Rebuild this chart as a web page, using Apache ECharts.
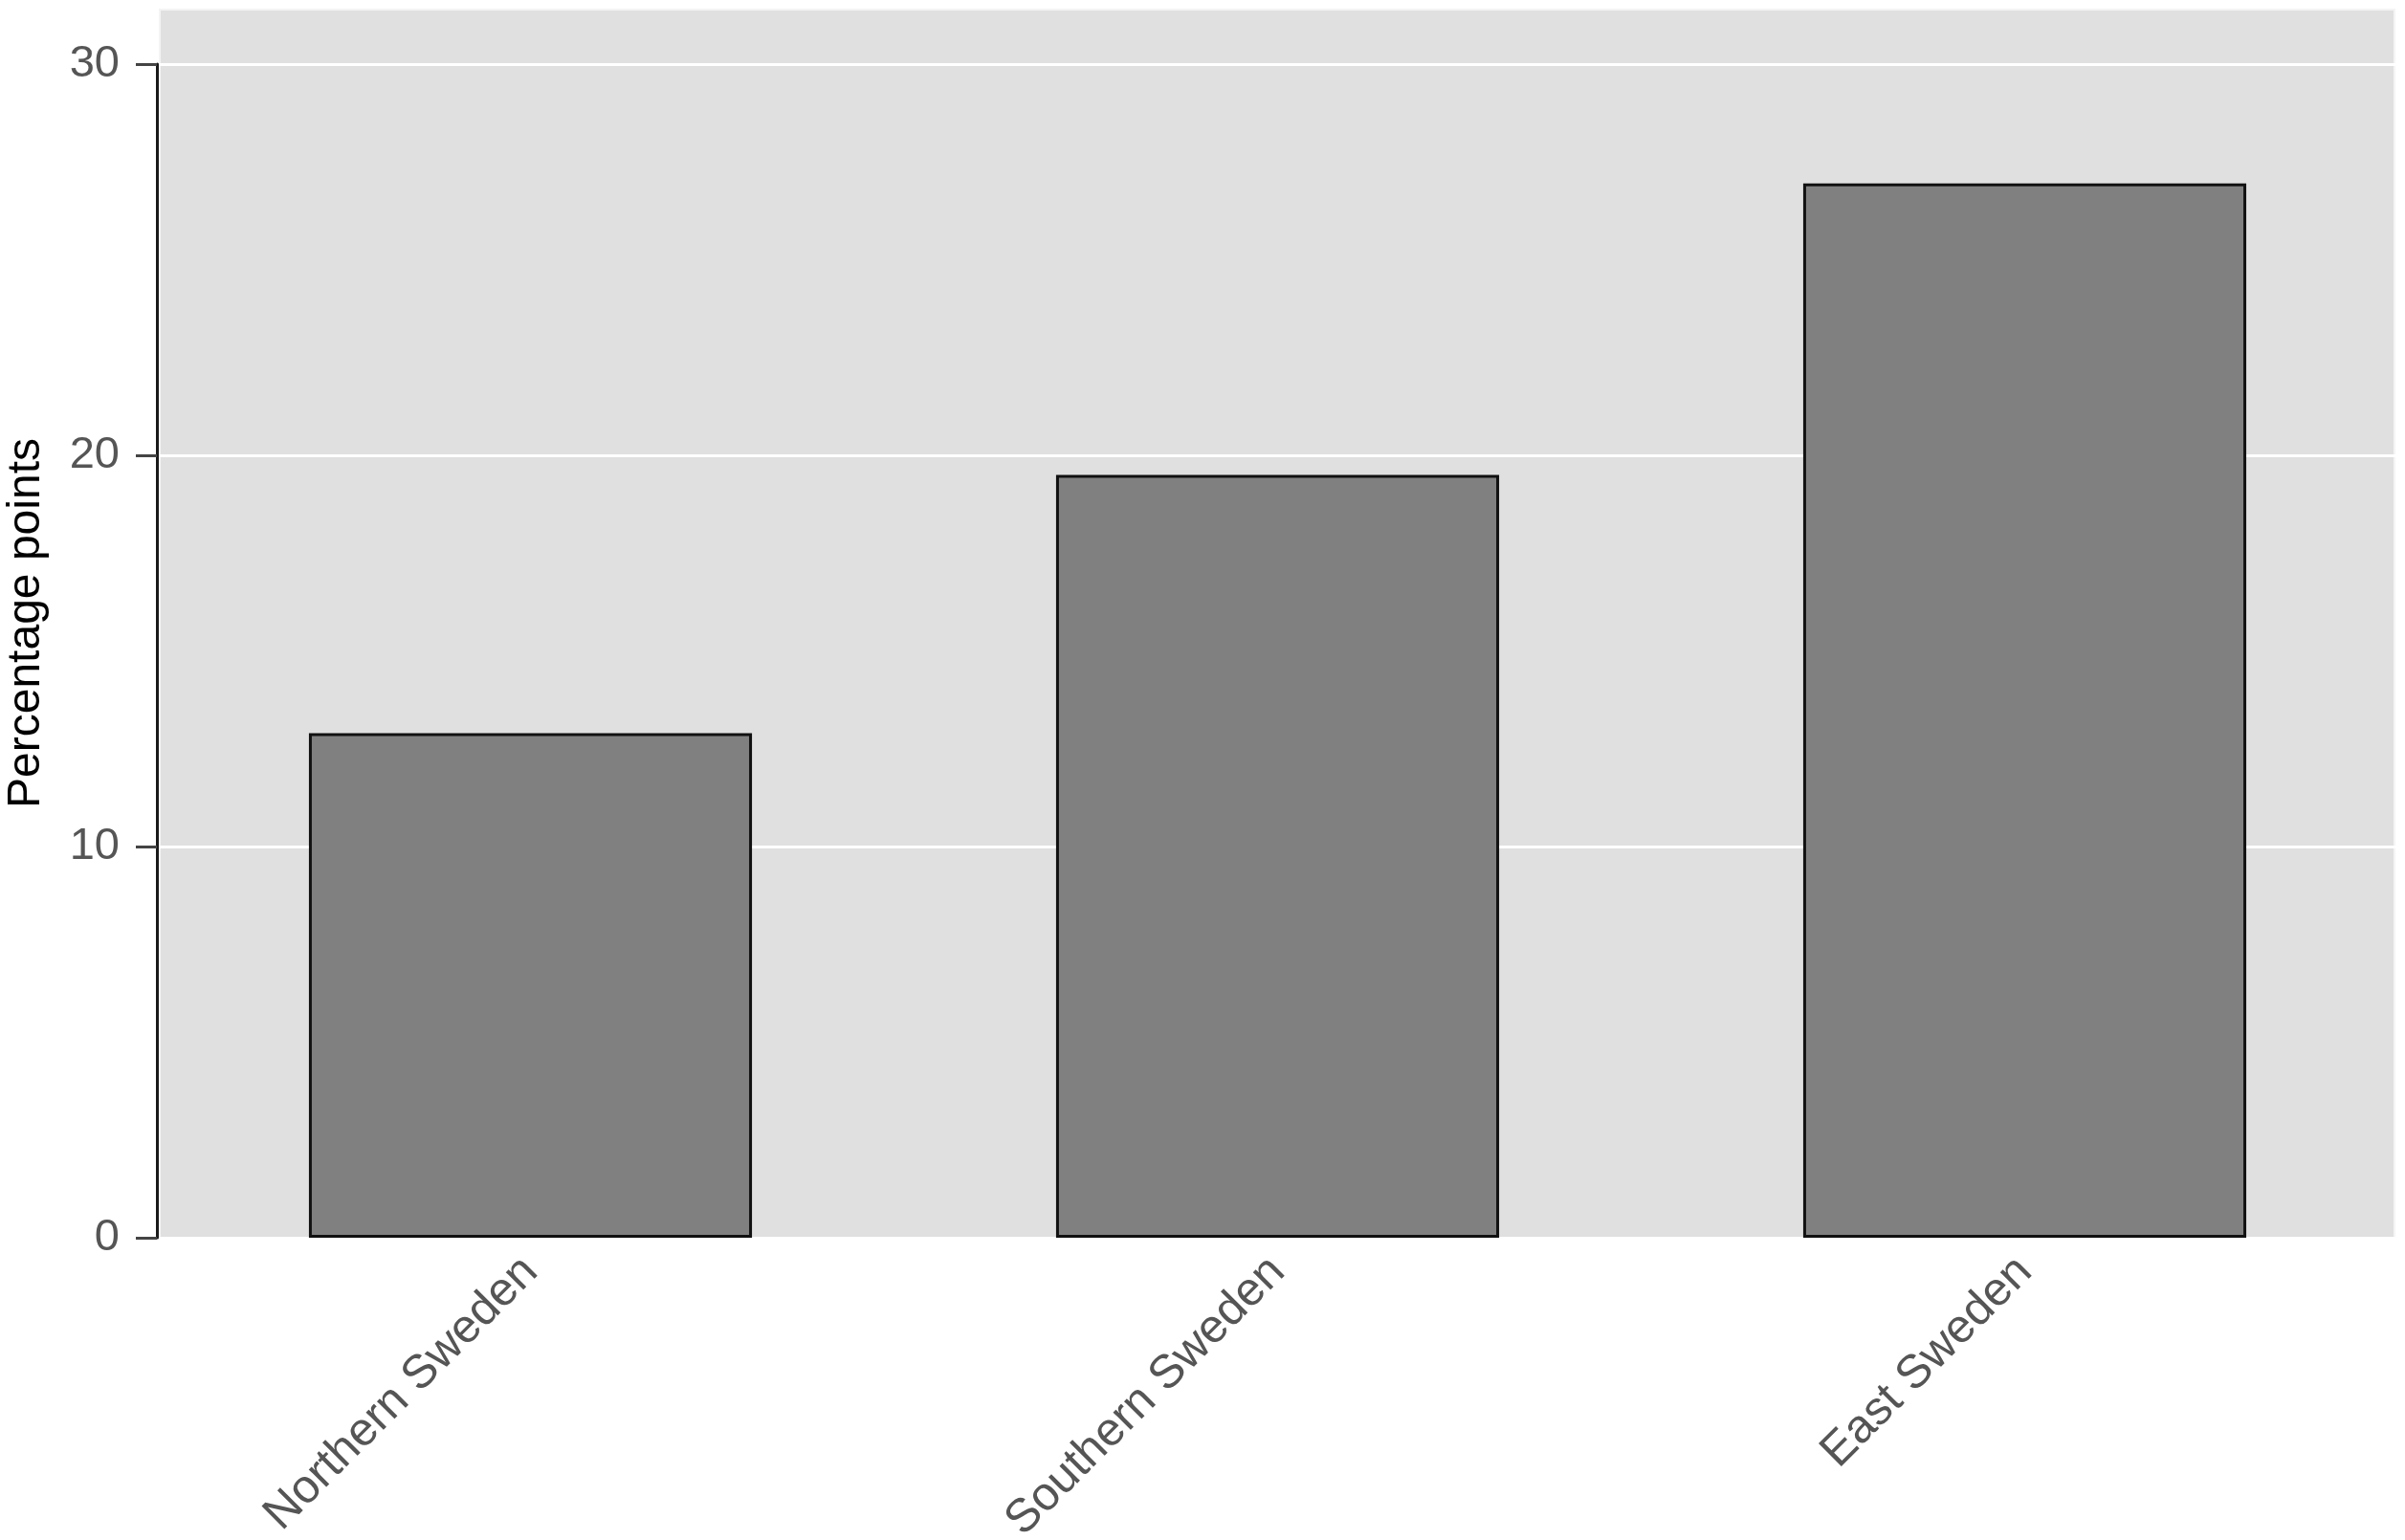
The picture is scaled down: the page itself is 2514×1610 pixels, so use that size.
<!DOCTYPE html>
<html>
<head>
<meta charset="utf-8">
<script src="https://cdn.jsdelivr.net/npm/echarts@6/dist/echarts.min.js"></script>
<style>html,body{margin:0;padding:0;background:#fff}#c{width:2514px;height:1610px}</style>
</head>
<body>
<div id="c"></div>
<script>
const categories = ['Northern Sweden', 'Southern Sweden', 'East Sweden'];
const values = [12.9, 19.5, 26.95];
const yTicks = [0, 10, 20, 30];
const yTitle = 'Percentage points';

const chart = echarts.init(document.getElementById('c'), null, {renderer: 'canvas'});
const FONT = '"Liberation Sans", Arial, Helvetica, sans-serif';
chart.setOption({
  animation: false,
  backgroundColor: '#ffffff',
  graphic: [{
    type: 'rect', z: -10, silent: true,
    shape: {x: 167, y: 10, width: 2336, height: 1284},
    style: {fill: '#e0e0e0', stroke: '#f4f4f4', lineWidth: 2}
  }],
  grid: {left: 164, right: 7, top: 67, bottom: 316, containLabel: false, outerBoundsMode: 'none'},
  xAxis: {
    type: 'category',
    data: categories,
    axisLine: {show: false},
    axisTick: {show: false},
    axisLabel: {
      rotate: 45, margin: 28, color: '#555555', fontSize: 49, fontFamily: FONT
    }
  },
  yAxis: {
    type: 'value', min: yTicks[0], max: yTicks[yTicks.length - 1], interval: 10,
    name: yTitle,
    nameLocation: 'middle',
    nameGap: 112,
    nameTextStyle: {color: '#000', fontSize: 48, fontFamily: FONT, padding: [0, 0, 0, 58]},
    axisLine: {show: true, lineStyle: {color: '#1a1a1a', width: 3}},
    axisTick: {show: true, length: 22, lineStyle: {color: '#444', width: 3}},
    axisLabel: {color: '#555555', fontSize: 47, fontFamily: FONT, margin: 39},
    splitLine: {show: true, lineStyle: {color: '#ffffff', width: 3}}
  },
  series: [{
    type: 'bar',
    data: values,
    barWidth: '59.3%',
    itemStyle: {color: '#808080', borderColor: '#111', borderWidth: 3}
  }]
});
</script>
</body>
</html>
